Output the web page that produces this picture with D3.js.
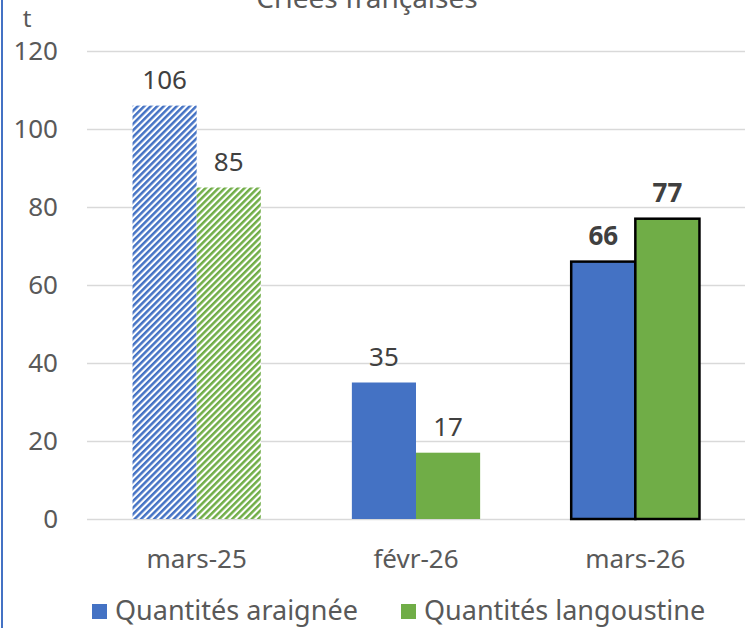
<!DOCTYPE html>
<html>
<head>
<meta charset="utf-8">
<script src="https://cdn.jsdelivr.net/npm/d3@7"></script>
<style>
    body { margin: 0; background: #fff; }
    #chart { width: 752px; height: 628px; }
    text { font-family: "Noto Sans", sans-serif; }
</style>
</head>
<body>
<div id="chart"></div>
<script>
const categories = ['mars-25', 'févr-26', 'mars-26'];
const seriesNames = ['Quantités araignée', 'Quantités langoustine'];
const araignee = [106, 35, 66];
const langoustine = [85, 17, 77];
const yTicks = [0, 20, 40, 60, 80, 100, 120];
const colors = ['#4472c4', '#70ad47'];

const width = 752;
const height = 628;
const margin = { top: 51, right: 7, bottom: 109, left: 87 };
const innerW = width - margin.left - margin.right;
const innerH = height - margin.top - margin.bottom;
const font = '"Noto Sans", sans-serif';

const svg = d3.select('#chart')
    .append('svg')
    .attr('width', width)
    .attr('height', height);

// hatch patterns for the first period
const defs = svg.append('defs');
colors.forEach(function(c, i) {
    const p = defs.append('pattern')
        .attr('id', 'hatch' + i)
        .attr('patternUnits', 'userSpaceOnUse')
        .attr('width', 4.6)
        .attr('height', 4.6)
        .attr('patternTransform', 'rotate(45)');
    p.append('rect').attr('width', 4.6).attr('height', 4.6).attr('fill', '#fff');
    p.append('rect').attr('width', 2.5).attr('height', 4.6).attr('fill', c);
});

// left border of the selection frame
svg.append('line')
    .attr('x1', 2).attr('x2', 2)
    .attr('y1', 0).attr('y2', height)
    .attr('stroke', '#4472c4')
    .attr('stroke-width', 2);

// title, cut off at the top like the original
svg.append('text')
    .attr('x', 367)
    .attr('y', 8)
    .attr('text-anchor', 'middle')
    .attr('font-size', 28)
    .attr('fill', '#595959')
    .text('Criées françaises');

const g = svg.append('g')
    .attr('transform', 'translate(' + margin.left + ',' + margin.top + ')');

const x = d3.scaleBand()
    .domain(categories)
    .range([0, innerW])
    .paddingInner(0)
    .paddingOuter(0);

const xSub = d3.scaleBand()
    .domain(seriesNames)
    .range([0, x.bandwidth()])
    .paddingOuter(0.71)
    .paddingInner(0);

const y = d3.scaleLinear().domain([0, 120]).range([innerH, 0]);

// gridlines + y axis
g.append('g')
    .call(d3.axisLeft(y).tickValues(yTicks).tickSize(-innerW).tickPadding(29))
    .call(a => a.select('.domain').remove())
    .call(a => a.selectAll('line').attr('stroke', '#d9d9d9').attr('stroke-width', 1.5))
    .call(a => a.selectAll('text')
        .attr('font-size', 26)
        .attr('fill', '#595959')
        .attr('font-family', font));

// unit label
svg.append('text')
    .attr('x', 27)
    .attr('y', 27)
    .attr('text-anchor', 'middle')
    .attr('font-size', 24)
    .attr('fill', '#595959')
    .text('t');

// x axis labels
g.append('g')
    .attr('transform', 'translate(0,' + innerH + ')')
    .call(d3.axisBottom(x).tickSize(0).tickPadding(31))
    .call(a => a.select('.domain').remove())
    .call(a => a.selectAll('text')
        .attr('font-size', 26)
        .attr('fill', '#595959')
        .attr('font-family', font));

const rows = categories.map(function(c, i) {
    return { cat: c, idx: i, values: [araignee[i], langoustine[i]] };
});

const groups = g.selectAll('.cat')
    .data(rows)
    .enter()
    .append('g')
    .attr('class', 'cat')
    .attr('transform', d => 'translate(' + x(d.cat) + ',0)');

groups.selectAll('rect')
    .data(d => d.values.map((v, j) => ({ v: v, j: j, idx: d.idx })))
    .enter()
    .append('rect')
    .attr('x', d => xSub(seriesNames[d.j]))
    .attr('y', d => y(d.v))
    .attr('width', xSub.bandwidth())
    .attr('height', d => innerH - y(d.v))
    .attr('fill', d => d.idx === 0 ? 'url(#hatch' + d.j + ')' : colors[d.j])
    .attr('stroke', d => d.idx === 2 ? '#000' : 'none')
    .attr('stroke-width', 2.5);

groups.selectAll('.lbl')
    .data(d => d.values.map((v, j) => ({ v: v, j: j, idx: d.idx })))
    .enter()
    .append('text')
    .attr('class', 'lbl')
    .attr('x', d => xSub(seriesNames[d.j]) + xSub.bandwidth() / 2)
    .attr('y', d => y(d.v) - 17)
    .attr('text-anchor', 'middle')
    .attr('font-size', 26)
    .attr('font-weight', d => d.idx === 2 ? 'bold' : 'normal')
    .attr('fill', '#404040')
    .text(d => d.v);

// legend
const legend = svg.append('g').attr('transform', 'translate(92,620)');
const legX = [0, 309];
seriesNames.forEach(function(s, i) {
    legend.append('rect')
        .attr('x', legX[i])
        .attr('y', -16)
        .attr('width', 15)
        .attr('height', 15)
        .attr('fill', colors[i]);
    legend.append('text')
        .attr('x', legX[i] + 23)
        .attr('y', 0)
        .attr('font-size', 27)
        .attr('fill', '#595959')
        .text(s);
});
</script>
</body>
</html>
